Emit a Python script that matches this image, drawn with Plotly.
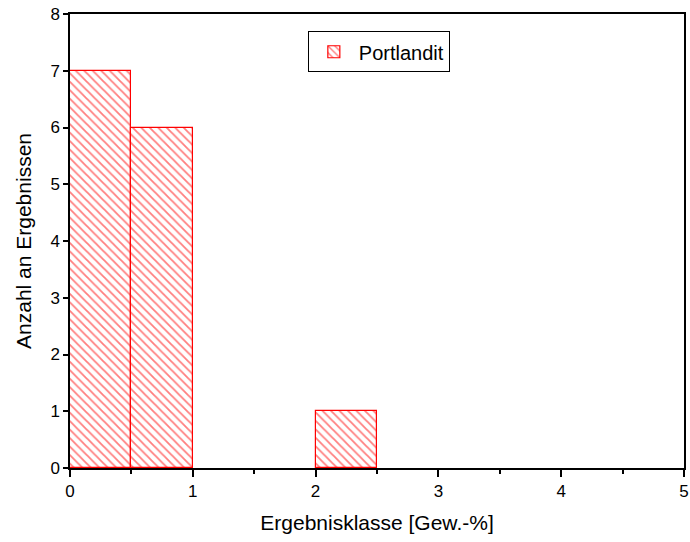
import plotly.graph_objects as go

# Data
bin_left = [0.0, 0.5, 2.0]
bin_width = [0.5, 0.5, 0.5]
counts = [7, 6, 1]
series_name = "Portlandit"
x_ticks = [0, 1, 2, 3, 4, 5]
y_ticks = [0, 1, 2, 3, 4, 5, 6, 7, 8]

centers = [l + w / 2 for l, w in zip(bin_left, bin_width)]

fig = go.Figure()
fig.add_trace(go.Bar(
    x=centers, y=counts, width=bin_width, name=series_name,
    marker=dict(color="white",
                line=dict(color="red", width=1.2),
                pattern=dict(shape="\\", fgcolor="red", bgcolor="white",
                             size=6, solidity=0.3)),
    showlegend=True,
))

font = "Liberation Sans, Arial, sans-serif"
fig.update_layout(
    width=690, height=542,
    margin=dict(l=70, r=6, t=14, b=74),
    paper_bgcolor="white", plot_bgcolor="white",
    font=dict(family=font, size=17, color="black"),
    bargap=0,
    showlegend=True,
    legend=dict(x=0.503, y=0.962, xanchor="center", yanchor="top",
                bordercolor="black", borderwidth=1, bgcolor="white",
                font=dict(size=20), itemwidth=40),
    xaxis=dict(range=[0, 5], tickvals=x_ticks, ticks="outside", ticklen=7,
               tickwidth=1.5, tickcolor="black", showline=True, linecolor="black",
               linewidth=1.5, mirror=True, showgrid=False, zeroline=False,
               automargin=False, ticklabeloverflow="allow",
               tickfont=dict(size=17),
               minor=dict(dtick=0.5, ticks="outside", ticklen=4, tickcolor="black", tickwidth=1.5),
               title=dict(text="Ergebnisklasse [Gew.-%]", font=dict(size=21), standoff=15)),
    yaxis=dict(range=[0, 8], tickvals=y_ticks, ticks="outside", ticklen=5,
               tickwidth=1.5, tickcolor="black", showline=True, linecolor="black",
               linewidth=1.5, mirror=True, showgrid=False, zeroline=False,
               automargin=False, ticklabeloverflow="allow",
               tickfont=dict(size=17),
               title=dict(text="Anzahl an Ergebnissen", font=dict(size=21), standoff=13)),
)
fig.write_html("out.html", config={"displayModeBar": False},
               post_script="document.body.style.margin='0';document.body.style.overflow='hidden';")
